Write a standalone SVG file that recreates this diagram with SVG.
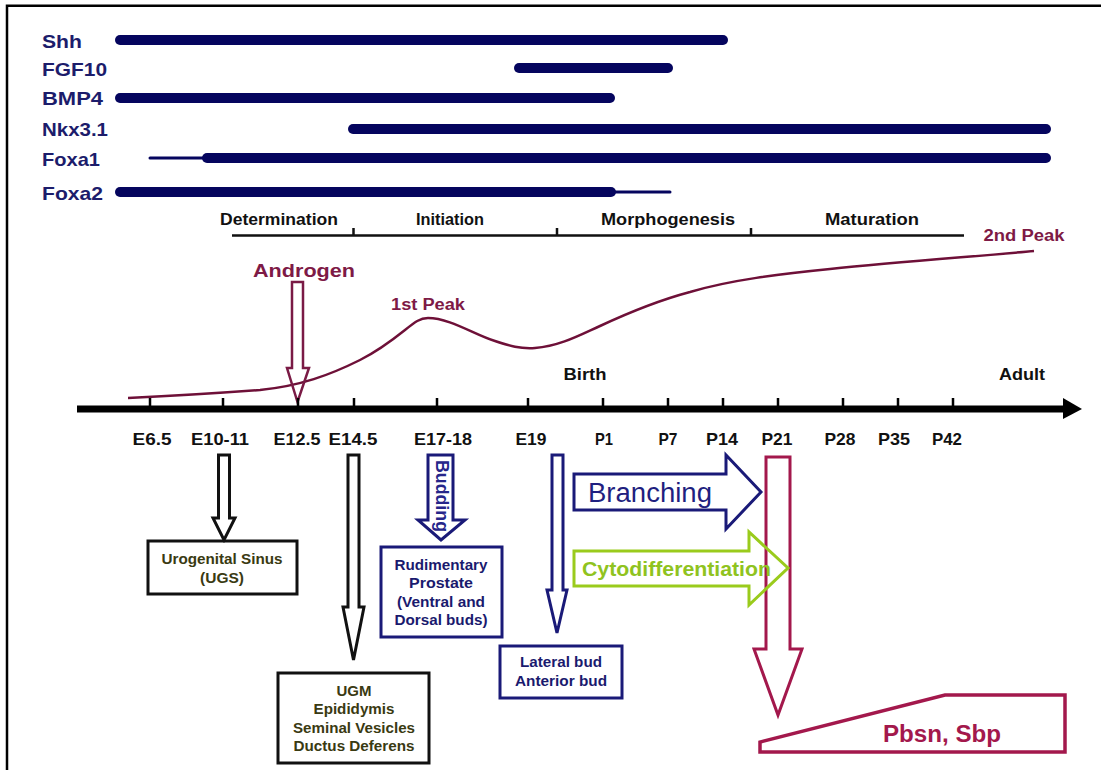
<svg xmlns="http://www.w3.org/2000/svg" width="1101" height="770" viewBox="0 0 1101 770">
<defs>
<style>
text{font-family:"Liberation Sans",Arial,sans-serif;font-weight:bold}
.gene{fill:#1c1c6b;font-size:19px}
.bar{stroke:#05055e;stroke-width:10;stroke-linecap:round;fill:none}
.thin{stroke:#05055e;stroke-width:3;stroke-linecap:round;fill:none}
.ph{fill:#111;font-size:17px;text-anchor:middle}
.tl{fill:#111;font-size:17px;text-anchor:middle}
.mar{fill:#7e1a46}
.blk{fill:none;stroke:#111;stroke-width:3;stroke-linejoin:miter}
.nav{fill:none;stroke:#1a1a78;stroke-width:3}
.olive{fill:#3a3a12;font-size:15px;text-anchor:middle}
.navt{fill:#1a1a6e;font-size:15px;text-anchor:middle}
</style>
</defs>
<rect width="1101" height="770" fill="#fff"/>
<g id="frame"><path d="M7,770 V5.7 H1101" fill="none" stroke="#000" stroke-width="2.5"/></g>

<g id="genes">
<g id="shh"><text class="gene" x="42" y="48" textLength="40" lengthAdjust="spacingAndGlyphs">Shh</text><line class="bar" x1="120" y1="40" x2="723" y2="40"/></g>
<g id="fgf10"><text class="gene" x="42" y="76" textLength="65" lengthAdjust="spacingAndGlyphs">FGF10</text><line class="bar" x1="519" y1="68" x2="668" y2="68"/></g>
<g id="bmp4"><text class="gene" x="42" y="105" textLength="61" lengthAdjust="spacingAndGlyphs">BMP4</text><line class="bar" x1="120" y1="98" x2="610" y2="98"/></g>
<g id="nkx31"><text class="gene" x="42" y="136" textLength="66" lengthAdjust="spacingAndGlyphs">Nkx3.1</text><line class="bar" x1="353" y1="129" x2="1046" y2="129"/></g>
<g id="foxa1"><text class="gene" x="42" y="166" textLength="58" lengthAdjust="spacingAndGlyphs">Foxa1</text><line class="thin" x1="150" y1="158" x2="204" y2="158"/><line class="bar" x1="207" y1="158" x2="1046" y2="158"/></g>
<g id="foxa2"><text class="gene" x="42" y="200" textLength="61" lengthAdjust="spacingAndGlyphs">Foxa2</text><line class="bar" x1="120" y1="192" x2="611" y2="192"/><line class="thin" x1="611" y1="192" x2="670" y2="192"/></g>
</g>

<g id="phases">
<path d="M232,235.5 H964 M353.5,235 V228 M557,235 V228 M751,235 V228" fill="none" stroke="#111" stroke-width="2.5"/>
<text class="ph" x="279" y="225" textLength="118" lengthAdjust="spacingAndGlyphs">Determination</text>
<text class="ph" x="450" y="225" textLength="68" lengthAdjust="spacingAndGlyphs">Initiation</text>
<text class="ph" x="668" y="225" textLength="134" lengthAdjust="spacingAndGlyphs">Morphogenesis</text>
<text class="ph" x="872" y="225" textLength="94" lengthAdjust="spacingAndGlyphs">Maturation</text>
</g>

<g id="androgen-curve">
<path d="M128,398 C170,396 220,393 260,390 C300,386 330,375 360,360 C380,350 395,338 405,330 C415,322 420,318 428,318 C450,318 475,335 495,341 C510,346 520,349 535,348 C560,346 580,335 600,326 C630,312 660,300 690,292 C730,280 780,274 830,269 C900,262 980,256 1034,251" fill="none" stroke="#6e1038" stroke-width="2.5"/>
<text class="mar" x="1024" y="241" font-size="16" text-anchor="middle" textLength="81" lengthAdjust="spacingAndGlyphs" fill="#8a1a4c">2nd Peak</text>
<text class="mar" x="428" y="310" font-size="16" text-anchor="middle" textLength="74" lengthAdjust="spacingAndGlyphs" fill="#8a1a4c">1st Peak</text>
</g>

<g id="androgen">
<text class="mar" x="304" y="277" font-size="19" text-anchor="middle" textLength="102" lengthAdjust="spacingAndGlyphs" style="font-weight:600">Androgen</text>
<path d="M292,282 H303 V368 H309 L297.5,402 L287,368 H292 Z" fill="none" stroke="#7a1a45" stroke-width="2.5"/>
</g>

<g id="timeline">
<line x1="77" y1="409" x2="1066" y2="409" stroke="#000" stroke-width="7"/>
<polygon points="1063,398 1082,409 1063,419" fill="#000"/>
<path d="M150,409 V398 M223,409 V398 M298,409 V398 M354,409 V398 M437,409 V398 M528,409 V398 M603,409 V398 M668,409 V398 M723,409 V398 M778,409 V398 M843,409 V398 M898,409 V398 M953,409 V398" stroke="#000" stroke-width="2.5"/>
<text class="tl" x="585" y="380" textLength="43" lengthAdjust="spacingAndGlyphs">Birth</text>
<text class="tl" x="1022" y="380" textLength="46" lengthAdjust="spacingAndGlyphs">Adult</text>
<text class="tl" x="152" y="445" textLength="39" lengthAdjust="spacingAndGlyphs">E6.5</text>
<text class="tl" x="220" y="445" textLength="58" lengthAdjust="spacingAndGlyphs">E10-11</text>
<text class="tl" x="297" y="445" textLength="47" lengthAdjust="spacingAndGlyphs">E12.5</text>
<text class="tl" x="353" y="445" textLength="49" lengthAdjust="spacingAndGlyphs">E14.5</text>
<text class="tl" x="443" y="445" textLength="58" lengthAdjust="spacingAndGlyphs">E17-18</text>
<text class="tl" x="531" y="445" textLength="31" lengthAdjust="spacingAndGlyphs">E19</text>
<text class="tl" x="604" y="445" textLength="18" lengthAdjust="spacingAndGlyphs">P1</text>
<text class="tl" x="668" y="445" textLength="19" lengthAdjust="spacingAndGlyphs">P7</text>
<text class="tl" x="722" y="445" textLength="32" lengthAdjust="spacingAndGlyphs">P14</text>
<text class="tl" x="777" y="445" textLength="31" lengthAdjust="spacingAndGlyphs">P21</text>
<text class="tl" x="840" y="445" textLength="31" lengthAdjust="spacingAndGlyphs">P28</text>
<text class="tl" x="894" y="445" textLength="32" lengthAdjust="spacingAndGlyphs">P35</text>
<text class="tl" x="947" y="445" textLength="30" lengthAdjust="spacingAndGlyphs">P42</text>
</g>

<g id="connectors">
<path class="blk" d="M218.5,455 H229.5 V518 H235 L224,540 L213,518 H218.5 Z"/>
<path class="blk" d="M348,455 H359 V607 H364 L353.5,660 L343,607 H348 Z"/>
<path class="nav" d="M428,455 H453 V520 H465 L441,540 L418,520 H428 Z"/>
<path class="nav" d="M552,455 H563 V590 H567 L557,633 L547,590 H552 Z"/>
</g>

<g id="budding-label">
<text transform="translate(436,496) rotate(90)" fill="#26268a" font-size="18" text-anchor="middle" textLength="72" lengthAdjust="spacingAndGlyphs">Budding</text>
</g>

<g id="ugs">
<rect class="blk" x="148" y="541" width="149" height="53"/>
<text class="olive" x="222" y="564" textLength="121" lengthAdjust="spacingAndGlyphs">Urogenital Sinus</text>
<text class="olive" x="222" y="583" textLength="44" lengthAdjust="spacingAndGlyphs">(UGS)</text>
</g>

<g id="ugm">
<rect class="blk" x="278" y="673" width="151" height="90"/>
<text class="olive" x="354" y="696" textLength="35" lengthAdjust="spacingAndGlyphs">UGM</text>
<text class="olive" x="354" y="714" textLength="81" lengthAdjust="spacingAndGlyphs">Epididymis</text>
<text class="olive" x="354" y="733" textLength="122" lengthAdjust="spacingAndGlyphs">Seminal Vesicles</text>
<text class="olive" x="354" y="751" textLength="121" lengthAdjust="spacingAndGlyphs">Ductus Deferens</text>
</g>

<g id="rudimentary">
<rect class="nav" x="381" y="547" width="121" height="90"/>
<text class="navt" x="441" y="570" textLength="93" lengthAdjust="spacingAndGlyphs">Rudimentary</text>
<text class="navt" x="441" y="588" textLength="64" lengthAdjust="spacingAndGlyphs">Prostate</text>
<text class="navt" x="441" y="607" textLength="88" lengthAdjust="spacingAndGlyphs">(Ventral and</text>
<text class="navt" x="441" y="625" textLength="93" lengthAdjust="spacingAndGlyphs">Dorsal buds)</text>
</g>

<g id="lateral">
<rect class="nav" x="500" y="646" width="122" height="52"/>
<text class="navt" x="561" y="667" font-size="14" textLength="82" lengthAdjust="spacingAndGlyphs">Lateral bud</text>
<text class="navt" x="561" y="686" font-size="14" textLength="92" lengthAdjust="spacingAndGlyphs">Anterior bud</text>
</g>

<g id="branching">
<path d="M574,474 H726 V455 L761,492 L726,529 V510 H574 Z" fill="#fff" stroke="#1a1a78" stroke-width="3"/>
<text x="588" y="502" fill="#1f1f80" font-size="27" style="font-weight:normal" textLength="124" lengthAdjust="spacingAndGlyphs">Branching</text>
</g>

<g id="p21-arrow">
<path d="M766,457 H790 V649 H802 L778,715 L754,649 H766 Z" fill="none" stroke="#a3184c" stroke-width="3"/>
</g>

<g id="cytodifferentiation">
<path d="M574,551 H749 V532 L788,568 L749,605 V586 H574 Z" fill="none" stroke="#9acb1c" stroke-width="3"/>
<text x="582" y="576" fill="#8fc320" font-size="20" style="font-weight:600" textLength="189" lengthAdjust="spacingAndGlyphs">Cytodifferentiation</text>
</g>

<g id="pbsn">
<path d="M760,752 V742 L945,695 H1065 V752 Z" fill="none" stroke="#a3184c" stroke-width="3.5" stroke-linejoin="miter"/>
<text x="942" y="742" fill="#a3184c" font-size="23" text-anchor="middle" textLength="118" lengthAdjust="spacingAndGlyphs">Pbsn, Sbp</text>
</g>
</svg>
